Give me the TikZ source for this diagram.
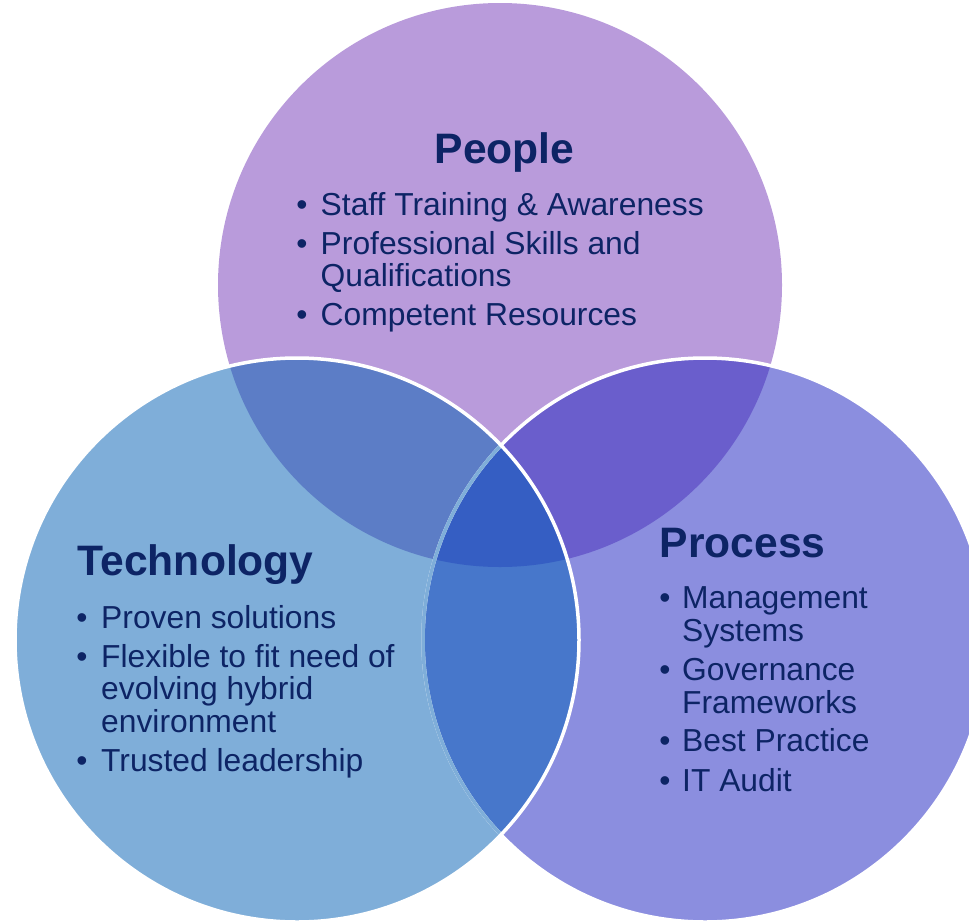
\documentclass[tikz,border=0pt]{standalone}
\usepackage{fontspec}
\setmainfont{Liberation Sans}
\definecolor{cPeople}{HTML}{B99BDB}
\definecolor{cTech}{HTML}{7FAED9}
\definecolor{cProc}{HTML}{8B8EDF}
\definecolor{cPT}{HTML}{5C7DC6}
\definecolor{cPP}{HTML}{6A5ECC}
\definecolor{cTP}{HTML}{4777CB}
\definecolor{cAll}{HTML}{355EC3}
\definecolor{navy}{HTML}{0D2465}
\begin{document}
\begin{tikzpicture}[x=1pt,y=-1pt,
  heading/.style={anchor=base west, inner sep=0pt, text=navy,
    font=\fontsize{42.6}{45}\selectfont\bfseries},
  item/.style={anchor=base west, inner sep=0pt, text=navy,
    font=\fontsize{31.8}{33}\selectfont},
  bullet/.style={anchor=base, inner sep=0pt, text=navy,
    font=\fontsize{31.8}{33}\selectfont},
  rim/.style={line width=3.5}]
\useasboundingbox (0,0) rectangle (969,921);
\clip (0,0) rectangle (969,921);

\def\People{(500,285) circle[radius=282]}
\def\Tech{(297,640) circle[radius=282]}
\def\Proc{(705,640) circle[radius=282]}

% single-set areas
\fill[cPeople] \People;
\fill[cTech] \Tech;
\fill[cProc] \Proc;
% pairwise overlaps
\begin{scope}
  \clip \People;
  \fill[cPT] \Tech;
  \fill[cPP] \Proc;
\end{scope}
\begin{scope}
  \clip \Tech;
  \fill[cTP] \Proc;
  \clip \People;
  \fill[cAll] \Proc;
\end{scope}
% outlines: Process rim shows white above People, tinted beneath Technology
\draw[white, rim] \Proc;
\begin{scope}
  \clip \Tech;
  \draw[cTech, rim] \Proc;
\end{scope}
\draw[white, rim] \Tech;

% People
\node[heading] (peopleT) at (434.5,163) {People};
\node[bullet] (pb1) at (302,215.7) {•};
\node[item] (p1) at (320.5,215.7) {Staff Training \& Awareness};
\node[bullet] (pb2) at (302,254) {•};
\node[item] (p2) at (320.5,254) {Professional Skills and};
\node[item] (p2b) at (320.5,286.7) {Qualifications};
\node[bullet] (pb3) at (302,325) {•};
\node[item] (p3) at (320.5,325) {Competent Resources};

% Technology
\node[heading] (techT) at (77.5,575.7) {Technology};
\node[bullet] (tb1) at (82,628) {•};
\node[item] (t1) at (101,628) {Proven solutions};
\node[bullet] (tb2) at (82,667) {•};
\node[item] (t2) at (101,667) {Flexible to fit need of};
\node[item] (t2b) at (101,699.7) {evolving hybrid};
\node[item] (t2c) at (101,732.4) {environment};
\node[bullet] (tb3) at (82,771) {•};
\node[item] (t3) at (101,771) {Trusted leadership};

% Process
\node[heading] (procT) at (659.5,557.3) {Process};
\node[bullet] (rb1) at (665,608.3) {•};
\node[item] (r1) at (682,608.3) {Management};
\node[item] (r1b) at (682,641) {Systems};
\node[bullet] (rb2) at (665,680) {•};
\node[item] (r2) at (682,680) {Governance};
\node[item] (r2b) at (682,713) {Frameworks};
\node[bullet] (rb3) at (665,751.7) {•};
\node[item] (r3) at (682,751.7) {Best Practice};
\node[bullet] (rb4) at (665,791) {•};
\node[item] (r4) at (682,791) {IT Audit};
\end{tikzpicture}
\end{document}
